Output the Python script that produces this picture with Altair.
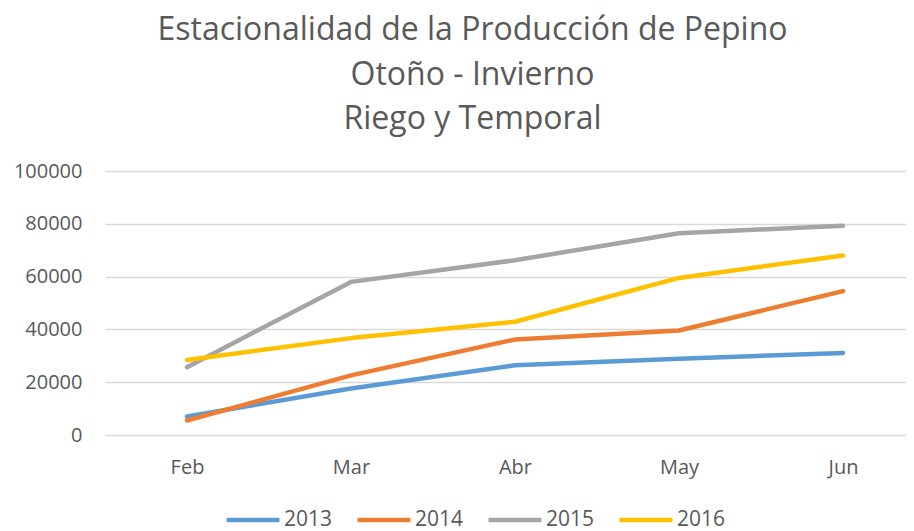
import altair as alt
import pandas as pd

months = ["Feb", "Mar", "Abr", "May", "Jun"]
years = ["2013", "2014", "2015", "2016"]
v2013 = [7000, 17600, 26400, 28900, 31100]
v2014 = [5500, 22600, 36200, 39600, 54500]
v2015 = [25700, 58000, 66200, 76400, 79300]
v2016 = [28400, 36700, 42900, 59500, 68000]
colors = ["#5B9BD5", "#ED7D31", "#A5A5A5", "#FFC000"]

rows = []
for y, vals in zip(years, [v2013, v2014, v2015, v2016]):
    for m, v in zip(months, vals):
        rows.append({"Mes": m, "Año": y, "Valor": v})
df = pd.DataFrame(rows)

FONT = "Open Sans"
TXT = "#595959"

chart = (
    alt.Chart(df)
    .mark_line(strokeWidth=4.5, strokeCap="round", strokeJoin="round")
    .encode(
        x=alt.X(
            "Mes:N",
            sort=months,
            scale=alt.Scale(type="point", padding=0.442, align=0.5655),
            axis=alt.Axis(
                title=None, labelAngle=0, ticks=False, domain=False,
                labelFontSize=20, labelColor=TXT, labelFont=FONT, labelPadding=22,
                grid=False,
            ),
        ),
        y=alt.Y(
            "Valor:Q",
            scale=alt.Scale(domain=[0, 100000], nice=False),
            axis=alt.Axis(
                title=None, values=[0, 20000, 40000, 60000, 80000, 100000],
                format="d", ticks=False, domain=False, labelFontSize=20,
                labelColor=TXT, labelFont=FONT, labelPadding=23,
                gridColor="#D9D9D9", gridWidth=1.3,
            ),
        ),
        color=alt.Color(
            "Año:N",
            scale=alt.Scale(domain=years, range=colors),
            legend=alt.Legend(
                title=None, orient="none", direction="horizontal", columns=4,
                legendX=119, legendY=320,
                symbolType="stroke", symbolSize=2800, symbolStrokeWidth=4.5,
                labelFontSize=21, labelColor=TXT, labelFont=FONT,
                labelOffset=2, columnPadding=15,
            ),
        ),
        order=alt.Order("Año:N"),
    )
    .properties(
        width=801,
        height=264,
        autosize=alt.AutoSizeParams(type="none"),
        padding={"left": 97, "top": 163, "right": 0, "bottom": 96},
        title=alt.Title(
            ["Estacionalidad de la Producción de Pepino", "Otoño - Invierno", "Riego y Temporal"],
            fontSize=32, font=FONT, color=TXT, fontWeight="normal",
            lineHeight=44.5, anchor="middle", dx=-33, offset=25,
        ),
    )
    .configure_view(stroke=None)
)

chart.save("out.html", embed_options={"renderer": "svg", "actions": False})
